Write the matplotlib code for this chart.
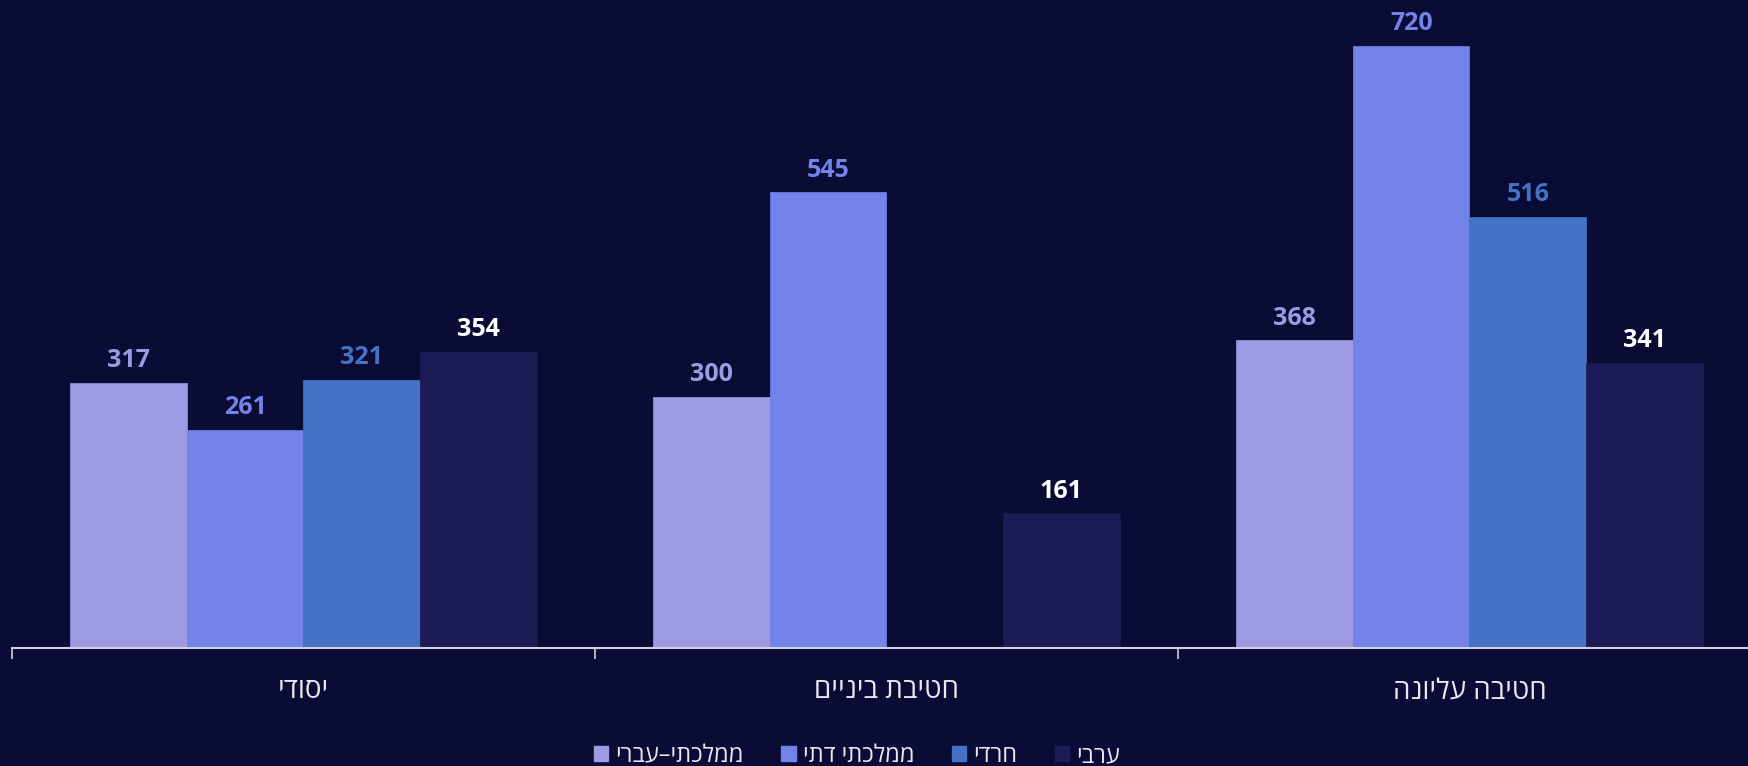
import numpy as np
from matplotlib import pyplot as plt
from matplotlib.patches import Patch

# data
categories = ['יסודי', 'חטיבת ביניים', 'חטיבה עליונה']
series = ['ממלכתי–עברי', 'ממלכתי דתי', 'חרדי', 'ערבי']
mamlachti = [317, 300, 368]
dati = [261, 545, 720]
haredi = [321, None, 516]
aravi = [354, 161, 341]

colors = ['#9d9ae3', '#7383ea', '#4472c4', '#1c1b56']
label_colors = ['#9d9ae3', '#7383ea', '#4472c4', '#ffffff']
bg = '#0a0c36'

plt.rcParams['font.family'] = ['Open Sans', 'DejaVu Sans']


def rtl(s):
    # matplotlib has no bidi support, so flip the Hebrew strings
    return s[::-1]


fig = plt.figure(figsize=(17.49, 7.66), dpi=100, facecolor=bg)
ax = fig.add_axes([12 / 1749, 118 / 766, 1749 / 1749, 648 / 766])
ax.set_facecolor(bg)

x = np.arange(len(categories))
w = 0.2
values = [mamlachti, dati, haredi, aravi]
for i, vals in enumerate(values):
    xs = x - 0.3 + i * w
    for xi, v in zip(xs, vals):
        if v is None:
            continue
        ax.bar(xi, v, width=w, color=colors[i], edgecolor=colors[i], linewidth=0.5)
        ax.annotate(str(v), (xi, v), xytext=(0, 7), textcoords='offset points',
                    ha='center', va='bottom', fontsize=18, fontweight='bold',
                    color=label_colors[i])

ax.set_xlim(-0.5, 2.5)
ax.set_ylim(0, 775)

for s in ['top', 'right', 'left']:
    ax.spines[s].set_visible(False)
ax.spines['bottom'].set_color('#d0d0d8')
ax.spines['bottom'].set_linewidth(1.5)
ax.set_yticks([])

ax.set_xticks([-0.5, 0.5, 1.5, 2.5])
ax.set_xticklabels([])
ax.tick_params(axis='x', which='major', length=8, width=1.2, color='#d0d0d8')
ax.set_xticks(x, minor=True)
ax.set_xticklabels([rtl(c) for c in categories], minor=True)
ax.tick_params(axis='x', which='minor', length=0, pad=21, labelsize=20,
               labelcolor='#e8e8f0')

handles = [Patch(facecolor=c, edgecolor=c) for c in colors]
fig.legend(handles, [rtl(s) for s in series], loc='center',
           bbox_to_anchor=(857 / 1749, 1 - 756 / 766), ncol=4, frameon=False,
           fontsize=17, labelcolor='#e8e8f0', handlelength=0.6, handleheight=0.6,
           handletextpad=0.3, columnspacing=1.6)

plt.savefig('out.png', dpi=100, facecolor=bg)
